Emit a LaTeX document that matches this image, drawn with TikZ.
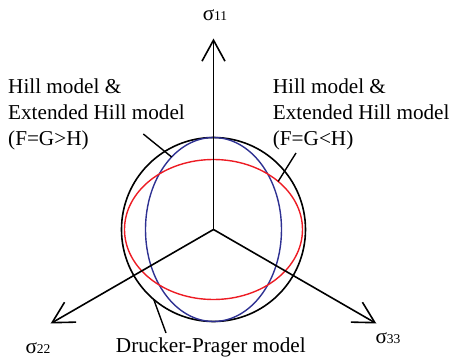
\documentclass[tikz,border=0pt]{standalone}
\usepackage{fontspec}
\setmainfont{Liberation Serif}
\usepackage{tikz}
\usetikzlibrary{arrows.meta}
\definecolor{hBlue}{HTML}{2E3192}
\definecolor{hRed}{HTML}{ED1C24}
\newcommand{\sidx}[1]{{\fontsize{13.5}{14}\selectfont #1}}

\begin{document}
\begin{tikzpicture}[x=1pt, y=1pt,
  axis/.style={line width=1.6pt, -{Straight Barb[length=21pt, width=23pt, line width=1.6pt]}},
  lead/.style={line width=1.4pt},
  lbl/.style={font=\fontsize{21.2}{26}\selectfont, inner sep=0pt, align=left},
  sig/.style={font=\fontsize{21.2}{26}\selectfont, inner sep=0pt}]
  \useasboundingbox (-213.5,-130.5) rectangle (237.5,229.5);
  \coordinate (o) at (0,0);
  % yield surfaces
  \draw[line width=1.6pt] (o) circle[radius=92];
  \draw[hBlue, line width=1.4pt] (o) ellipse[x radius=68, y radius=92];
  \draw[hRed, line width=1.4pt] (o) ellipse[x radius=89, y radius=70];
  % principal stress axes
  \coordinate (e11) at (90:191);
  \coordinate (e22) at (210:188);
  \coordinate (e33) at (330:188);
  \draw[axis] (o) -- (e11);
  \draw[axis] (o) -- (e22);
  \draw[axis] (o) -- (e33);
  \node[sig] (s11) at (1.5,214.5) {σ\sidx{11}};
  \node[sig] (s22) at (-175.5,-118.5) {σ\sidx{22}};
  \node[sig] (s33) at (174.5,-108.5) {σ\sidx{33}};
  % labels
  \node[lbl, anchor=west] (hl) at (-205.5,115.5) {Hill model \&\\Extended Hill model\\(F=G>H)};
  \node[lbl, anchor=west] (hr) at (59.2,115.5) {Hill model \&\\Extended Hill model\\(F=G<H)};
  \node[lbl] (dp) at (-2.7,-117.5) {Drucker-Prager model};
  \coordinate (pl) at (-70.2,95.5);
  \coordinate (pr) at (82.5,76.5);
  \coordinate (pd) at (-47.5,-103.5);
  \draw[lead] (pl) -- (128:68 and 92);
  \draw[lead] (pr) -- (43.4:89 and 70);
  \draw[lead] (229.5:92) -- (pd);
\end{tikzpicture}
\end{document}
